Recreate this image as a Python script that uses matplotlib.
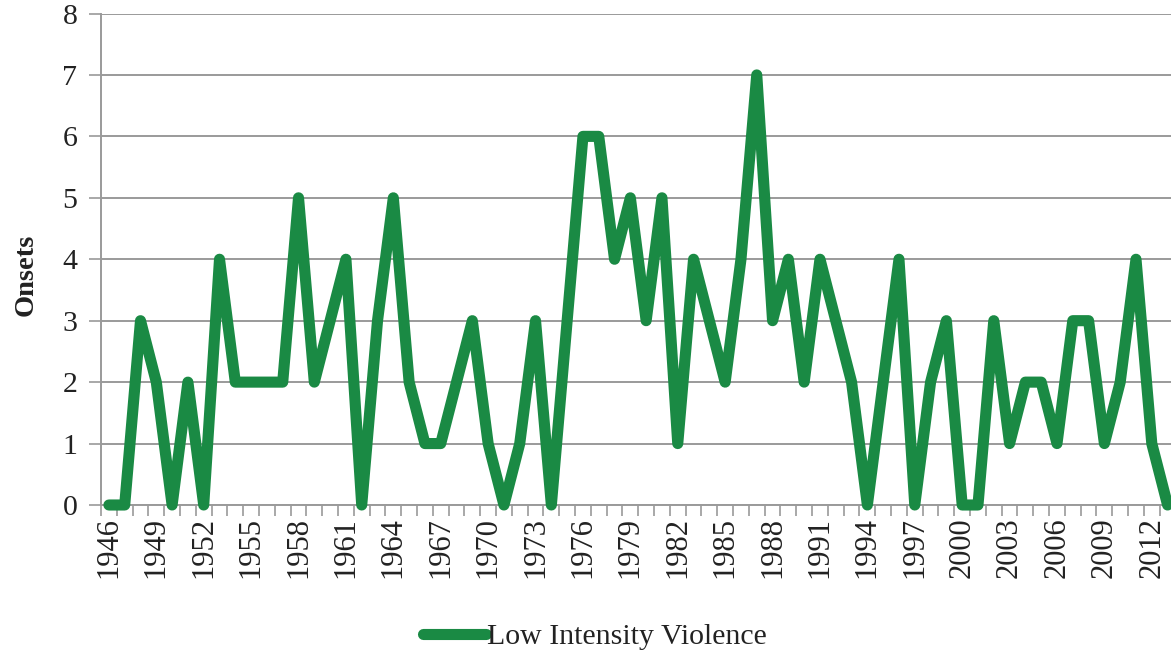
import matplotlib
matplotlib.use("Agg")
import matplotlib.pyplot as plt
from matplotlib.lines import Line2D

years = list(range(1946, 2014))
onsets = [0, 0, 3, 2, 0, 2, 0, 4, 2, 2,
          2, 2, 5, 2, 3, 4, 0, 3, 5, 2,
          1, 1, 2, 3, 1, 0, 1, 3, 0, 3,
          6, 6, 4, 5, 3, 5, 1, 4, 3, 2,
          4, 7, 3, 4, 2, 4, 3, 2, 0, 2,
          4, 0, 2, 3, 0, 0, 3, 1, 2, 2,
          1, 3, 3, 1, 2, 4, 1, 0]
y_ticks = list(range(0, 9))
series_name = "Low Intensity Violence"

line_color = "#1a8a44"
grid_color = "#9a9a9a"
text_color = "#222222"
font = ["Liberation Serif", "DejaVu Serif"]
plt.rcParams["font.family"] = font

W, H, DPI = 1171, 658, 100
fig = plt.figure(figsize=(W / DPI, H / DPI), dpi=DPI)
left_px, right_px, top_px, bottom_px = 101, 1175.5, 13.5, 505
ax = fig.add_axes([left_px / W, 1 - bottom_px / H,
                   (right_px - left_px) / W, (bottom_px - top_px) / H])

x = list(range(len(years)))
ax.plot(x, onsets, color=line_color, lw=8.0, solid_joinstyle="round",
        solid_capstyle="round", zorder=3, clip_on=False)

ax.set_xlim(-0.5, len(years) - 0.5)
ax.set_ylim(0, 8)
ax.set_yticks(y_ticks)
ax.set_yticklabels([str(v) for v in y_ticks], fontsize=21.5, color=text_color)
ax.yaxis.grid(True, color=grid_color, lw=1.4)
ax.set_axisbelow(True)
ax.tick_params(axis="y", length=9, width=1.2, color=grid_color, pad=8)

# category boundaries carry the tick marks, every third year carries a label
ax.set_xticks([i - 0.5 for i in range(len(years) + 1)])
ax.set_xticklabels([])
ax.tick_params(axis="x", which="major", length=8, width=1.2, color=grid_color)
label_pos = [i for i in x if (years[i] - 1946) % 3 == 0]
ax.set_xticks(label_pos, minor=True)
ax.set_xticklabels([str(years[i]) for i in label_pos], minor=True,
                   rotation=90, fontsize=22, color=text_color)
ax.tick_params(axis="x", which="minor", length=0, pad=9)

for side in ("top", "right"):
    ax.spines[side].set_visible(False)
ax.spines["left"].set_color(grid_color)
ax.spines["left"].set_linewidth(1.4)
ax.spines["bottom"].set_color(grid_color)
ax.spines["bottom"].set_linewidth(1.4)

ax.set_ylabel("Onsets", fontsize=20.5, fontweight="bold", color=text_color)
ax.yaxis.set_label_coords(-0.058, 0.468)

handle = Line2D([], [], color=line_color, lw=8.0, solid_capstyle="round")
fig.legend([handle], [series_name], loc="center", bbox_to_anchor=(0.508, 1 - 637 / H),
           frameon=False, fontsize=21.5, handlelength=2.1, handletextpad=0.05,
           labelcolor=text_color)

fig.savefig("out.png", dpi=DPI, facecolor="white")
